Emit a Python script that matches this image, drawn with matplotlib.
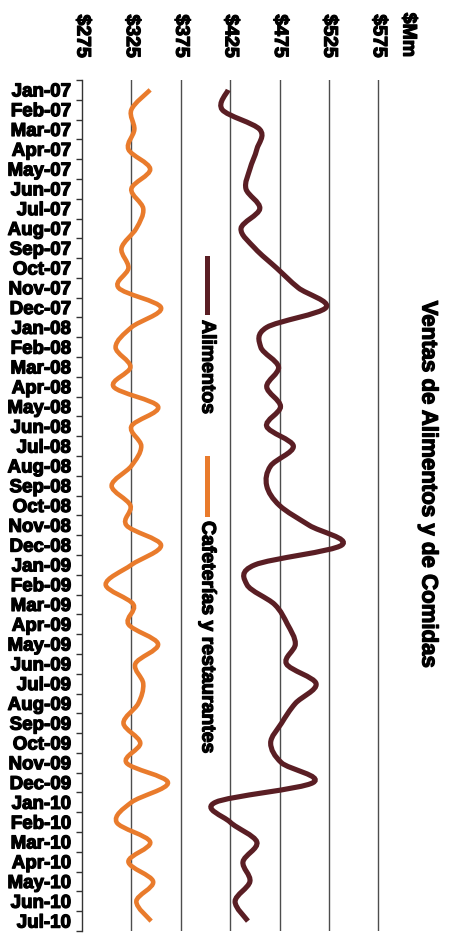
import numpy as np
import matplotlib
matplotlib.use("Agg")
import matplotlib.pyplot as plt
import matplotlib.patheffects as pe
from matplotlib.path import Path
from matplotlib.patches import PathPatch
from matplotlib.lines import Line2D

plt.rcParams['font.family'] = ['Liberation Sans', 'DejaVu Sans']
plt.rcParams['font.weight'] = 'bold'

# ---- data ($ millones por mes) ----
meses = ['Jan-07', 'Feb-07', 'Mar-07', 'Apr-07', 'May-07', 'Jun-07', 'Jul-07',
         'Aug-07', 'Sep-07', 'Oct-07', 'Nov-07', 'Dec-07',
         'Jan-08', 'Feb-08', 'Mar-08', 'Apr-08', 'May-08', 'Jun-08', 'Jul-08',
         'Aug-08', 'Sep-08', 'Oct-08', 'Nov-08', 'Dec-08',
         'Jan-09', 'Feb-09', 'Mar-09', 'Apr-09', 'May-09', 'Jun-09', 'Jul-09',
         'Aug-09', 'Sep-09', 'Oct-09', 'Nov-09', 'Dec-09',
         'Jan-10', 'Feb-10', 'Mar-10', 'Apr-10', 'May-10', 'Jun-10', 'Jul-10']

alimentos = [423, 417, 455, 452, 445, 441, 455, 436, 450, 472, 494, 522,
             462, 456, 474, 462, 476, 462, 489, 466, 462, 475, 505, 538,
             450, 442, 470, 483, 491, 482, 512, 491, 477, 466, 477, 509,
             410, 425, 452, 438, 445, 430, 443]

cafeterias = [344, 325, 328, 322, 344, 325, 337, 330, 315, 322, 312, 355,
              325, 309, 324, 307, 352, 325, 335, 325, 305, 324, 320, 355,
              325, 299, 327, 322, 352, 329, 337, 332, 317, 334, 320, 362,
              325, 310, 344, 322, 347, 330, 345]

ticks_valor = [275, 325, 375, 425, 475, 525, 575]
etiquetas_valor = ['$275', '$325', '$375', '$425', '$475', '$525', '$575']

col_alim = '#5a1e24'
col_cafe = '#e97b2c'

# heavier strokes on all lettering
grueso = [pe.withStroke(linewidth=0.9, foreground='black')]


def curva_suave(xs, ys):
    """Smoothed line (cardinal spline as cubic Bezier segments)."""
    pts = np.column_stack([xs, ys]).astype(float)
    n = len(pts)
    verts = [pts[0]]
    codes = [Path.MOVETO]
    for i in range(n - 1):
        p0 = pts[max(i - 1, 0)]
        p1 = pts[i]
        p2 = pts[i + 1]
        p3 = pts[min(i + 2, n - 1)]
        c1 = p1 + (p2 - p0) / 6.0
        c2 = p2 - (p3 - p1) / 6.0
        verts += [c1, c2, p2]
        codes += [Path.CURVE4] * 3
    return Path(verts, codes)


W, H = 452, 936
fig = plt.figure(figsize=(W / 100, H / 100), dpi=100)
ax = fig.add_axes([82 / W, 1 - 931 / H, (403 - 82) / W, (931 - 80) / H])

idx = np.arange(len(meses))
ax.add_patch(PathPatch(curva_suave(alimentos, idx), fill=False,
                       edgecolor=col_alim, lw=3.7, capstyle='butt', zorder=3))
ax.add_patch(PathPatch(curva_suave(cafeterias, idx), fill=False,
                       edgecolor=col_cafe, lw=3.3, capstyle='butt', zorder=3))

ax.set_xlim(275, 600)
ax.set_ylim(len(meses) - 0.5, -0.5)

# value axis on top, labels turned
ax.xaxis.tick_top()
ax.set_xticks(ticks_valor)
ax.set_xticklabels(etiquetas_valor, rotation=-90, fontsize=14,
                   fontweight='bold', va='bottom', ha='center')
ax.tick_params(axis='x', length=0, pad=16)
for v in ticks_valor[1:]:
    ax.axvline(v, color='#4d4d4d', lw=1.0, zorder=1)

# month axis: ticks between categories, labels centred
ax.set_yticks(np.arange(len(meses) + 1) - 0.5)
ax.set_yticklabels([])
ax.set_yticks(idx, minor=True)
ax.set_yticklabels(meses, minor=True, fontsize=13.5, fontweight='bold')
ax.tick_params(axis='y', which='major', length=4, width=1.0, color='#333333')
ax.tick_params(axis='y', which='minor', length=0, pad=8)

for lab in ax.get_xticklabels() + ax.get_yticklabels(minor=True):
    lab.set_path_effects(grueso)

for s in ['top', 'right', 'bottom']:
    ax.spines[s].set_visible(False)
ax.spines['left'].set_color('#333333')
ax.spines['left'].set_linewidth(1.0)

fig.text(408 / W, 1 - 57 / H, '$Mm', rotation=-90, fontsize=14,
         fontweight='bold', ha='center', va='bottom', path_effects=grueso)

fig.text(428 / W, 1 - 484 / H, 'Ventas de Alimentos y de Comidas',
         rotation=-90, fontsize=16, fontweight='bold', ha='center',
         va='center', path_effects=grueso)

# legend, drawn vertically in the middle of the plot
fig.add_artist(Line2D([207 / W, 207 / W], [1 - 258 / H, 1 - 312 / H],
                      color=col_alim, lw=3.6, transform=fig.transFigure))
fig.text(207 / W, 1 - 320 / H, 'Alimentos', rotation=-90, fontsize=14,
         fontweight='bold', ha='center', va='top', path_effects=grueso)
fig.add_artist(Line2D([207 / W, 207 / W], [1 - 458 / H, 1 - 514 / H],
                      color=col_cafe, lw=3.6, transform=fig.transFigure))
fig.text(207 / W, 1 - 521 / H, 'Cafeterías y restaurantes', rotation=-90,
         fontsize=14, fontweight='bold', ha='center', va='top',
         path_effects=grueso)

fig.savefig('out.png', dpi=100)
